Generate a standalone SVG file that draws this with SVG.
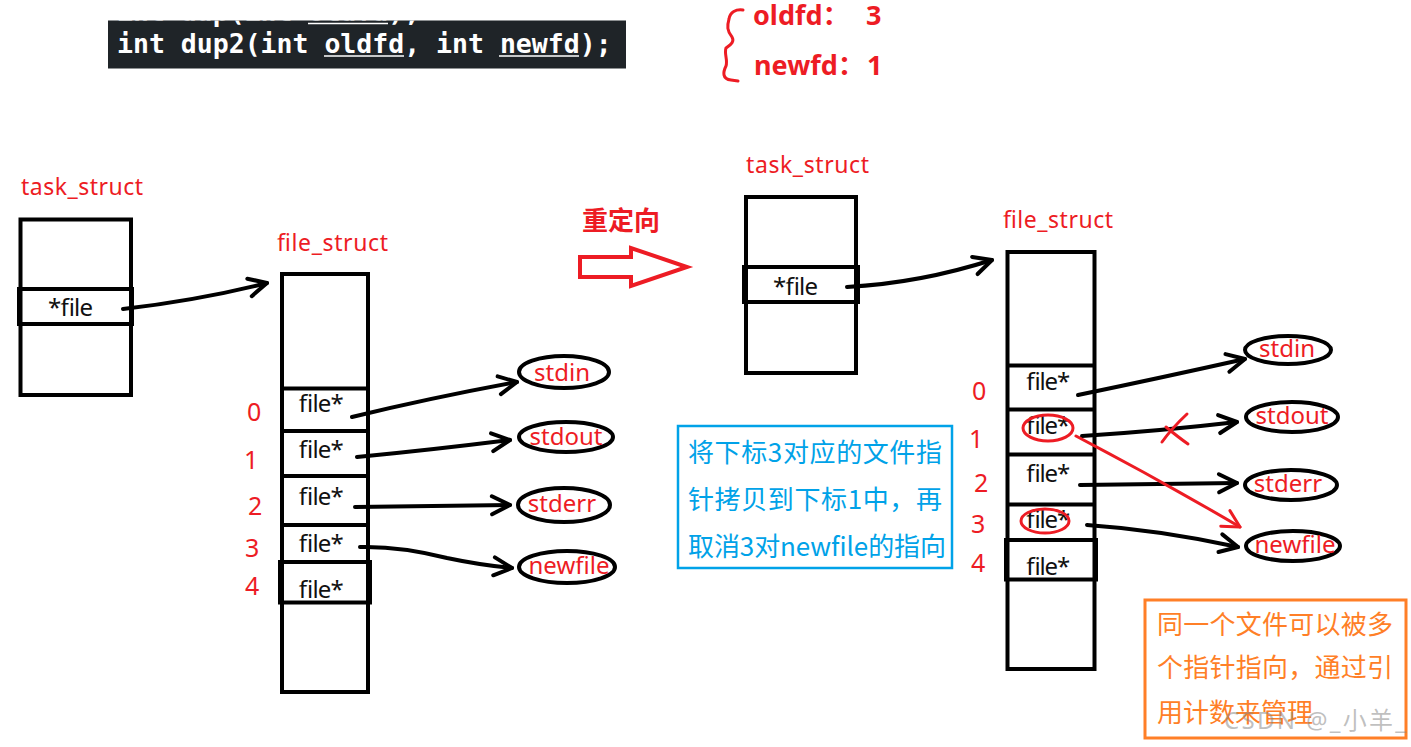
<svg xmlns="http://www.w3.org/2000/svg" width="1411" height="747" viewBox="0 0 1411 747">
<style>
.box{fill:#fff;stroke:#000;stroke-width:4}
.row{fill:none;stroke:#000;stroke-width:4}
.lbl{font-family:"Noto Sans","Noto Sans CJK SC",sans-serif;font-size:23px;fill:#ED1C24}
.cell{font-family:"Noto Sans","Noto Sans CJK SC",sans-serif;font-size:24px;fill:#111}
.idx{font-family:"Noto Sans","Noto Sans CJK SC",sans-serif;font-size:25px;fill:#ED1C24}
.ell{fill:none;stroke:#000;stroke-width:4}
.ellt{font-family:"Noto Sans","Noto Sans CJK SC",sans-serif;font-size:24px;fill:#ED1C24;text-anchor:middle}
.conn{fill:none;stroke:#000;stroke-width:4;stroke-linecap:round;stroke-linejoin:round;marker-end:url(#ah)}
.redc{fill:none;stroke:#ED1C24;stroke-width:3;stroke-linecap:round;stroke-linejoin:round}
.code{font-family:"DejaVu Sans Mono","Liberation Mono",monospace;font-weight:bold;font-size:26.5px;fill:#fff}
.ul{stroke:#fff;stroke-width:1.5}
.cjk{font-family:"Noto Sans CJK SC",sans-serif;font-size:26px}
.par{font-family:"Noto Sans","Noto Sans CJK SC",sans-serif;font-size:27px;font-weight:bold;fill:#ED1C24}
</style>
<defs>
<marker id="ah" markerUnits="userSpaceOnUse" markerWidth="26" markerHeight="26" viewBox="0 0 26 26" refX="22" refY="13" orient="auto">
<path d="M4,4 L22,13 L4,22" fill="none" stroke="#000" stroke-width="4" stroke-linecap="round" stroke-linejoin="round"/>
</marker>
<marker id="ahr" markerUnits="userSpaceOnUse" markerWidth="26" markerHeight="26" viewBox="0 0 26 26" refX="22" refY="13" orient="auto">
<path d="M5,4 L22,13 L5,22" fill="none" stroke="#ED1C24" stroke-width="3" stroke-linecap="round" stroke-linejoin="round"/>
</marker>
<clipPath id="codeclip"><rect x="108" y="20.5" width="518" height="48"/></clipPath>
</defs>
<rect width="1411" height="747" fill="#fff"/>

<g id="code">
<rect x="108" y="20.5" width="518" height="48" fill="#1f2428"/>
<g clip-path="url(#codeclip)">
<text class="code" x="117" y="21">int dup(int oldfd);</text>
<line class="ul" x1="308" y1="23.5" x2="388" y2="23.5"/>
</g>
<text class="code" x="117" y="53">int dup2(int oldfd, int newfd);</text>
<line class="ul" x1="324" y1="56" x2="404" y2="56"/>
<line class="ul" x1="499" y1="56" x2="579" y2="56"/>
</g>

<g id="params">
<path d="M743,10 C736,9 730,12 729,19 C727,26 727,31 732,37 C735,42 730,45 726,48 C724,54 728,60 726,66 C723,72 722,79 731,80 L738,81" fill="none" stroke="#ED1C24" stroke-width="3" stroke-linecap="round"/>
<text class="par" x="753" y="25">oldfd：<tspan x="866">3</tspan></text>
<text class="par" x="754" y="75">newfd：<tspan x="867">1</tspan></text>
</g>

<g id="task-left">
<text class="lbl" x="21" y="195" textLength="122">task_struct</text>
<rect class="box" x="20.5" y="219.5" width="110.5" height="175.5"/>
<rect class="row" x="19" y="289" width="113" height="35"/>
<text class="cell" x="48" y="316" textLength="45">*file</text>
</g>

<g id="file-left">
<text class="lbl" x="277" y="251" textLength="111">file_struct</text>
<rect class="box" x="282" y="274" width="86" height="418"/>
<line class="row" x1="282" y1="388.5" x2="368" y2="388.5"/>
<line class="row" x1="282" y1="431" x2="368" y2="431"/>
<line class="row" x1="282" y1="476" x2="368" y2="476"/>
<line class="row" x1="282" y1="525" x2="368" y2="525"/>
<rect class="row" x="280" y="562" width="90" height="40.5"/>
<text class="cell" x="298" y="412" textLength="45">file*</text>
<text class="cell" x="298" y="458" textLength="45">file*</text>
<text class="cell" x="298" y="505" textLength="45">file*</text>
<text class="cell" x="298" y="552" textLength="45">file*</text>
<text class="cell" x="298" y="598" textLength="45">file*</text>
<text class="idx" x="247" y="421">0</text>
<text class="idx" x="244" y="469">1</text>
<text class="idx" x="248" y="515">2</text>
<text class="idx" x="245" y="557">3</text>
<text class="idx" x="245" y="595">4</text>
</g>

<g id="files-left">
<ellipse class="ell" cx="564" cy="372" rx="45" ry="16"/>
<text class="ellt" x="562" y="381">stdin</text>
<ellipse class="ell" cx="566" cy="437" rx="47" ry="15"/>
<text class="ellt" x="566" y="445">stdout</text>
<ellipse class="ell" cx="564" cy="505" rx="46" ry="17"/>
<text class="ellt" x="562" y="512">stderr</text>
<ellipse class="ell" cx="567" cy="567" rx="48" ry="16"/>
<text class="ellt" x="569" y="574">newfile</text>
</g>

<g id="redirect">
<path d="M580,257 L631,257 L631,248 L687,267 L631,286 L631,277 L580,277 Z" fill="none" stroke="#ED1C24" stroke-width="4" stroke-linejoin="miter"/>
<text x="582" y="230" font-family="Noto Sans CJK SC,sans-serif" font-size="26" font-weight="bold" fill="#ED1C24">重定向</text>
</g>

<g id="task-right">
<text class="lbl" x="746" y="173" textLength="123">task_struct</text>
<rect class="box" x="746" y="197" width="110" height="176"/>
<rect class="row" x="744" y="267" width="114" height="35"/>
<text class="cell" x="773" y="295" textLength="45">*file</text>
</g>

<g id="file-right">
<text class="lbl" x="1003" y="228" textLength="110">file_struct</text>
<rect class="box" x="1007.5" y="252" width="87" height="417"/>
<line class="row" x1="1007.5" y1="365.5" x2="1094.5" y2="365.5"/>
<line class="row" x1="1007.5" y1="409.5" x2="1094.5" y2="409.5"/>
<line class="row" x1="1007.5" y1="454.5" x2="1094.5" y2="454.5"/>
<line class="row" x1="1007.5" y1="504.5" x2="1094.5" y2="504.5"/>
<rect class="row" x="1006" y="540" width="90" height="39.5"/>
<text class="cell" x="1025" y="390" textLength="44">file*</text>
<text class="cell" x="1025" y="434" textLength="44">file*</text>
<text class="cell" x="1025" y="482" textLength="44">file*</text>
<text class="cell" x="1025" y="528" textLength="44">file*</text>
<text class="cell" x="1025" y="575" textLength="44">file*</text>
<text class="idx" x="972" y="400">0</text>
<text class="idx" x="969" y="448">1</text>
<text class="idx" x="974" y="492">2</text>
<text class="idx" x="971" y="533">3</text>
<text class="idx" x="971" y="572">4</text>
<ellipse cx="1048" cy="428" rx="25" ry="13" class="redc"/>
<ellipse cx="1045" cy="521" rx="24" ry="12" class="redc"/>
</g>

<g id="files-right">
<ellipse class="ell" cx="1288" cy="350" rx="43" ry="14"/>
<text class="ellt" x="1287" y="357">stdin</text>
<ellipse class="ell" cx="1292" cy="417" rx="46" ry="15"/>
<text class="ellt" x="1292" y="424">stdout</text>
<ellipse class="ell" cx="1291" cy="485" rx="46" ry="15"/>
<text class="ellt" x="1288" y="492">stderr</text>
<ellipse class="ell" cx="1293" cy="546" rx="47" ry="15"/>
<text class="ellt" x="1295" y="553">newfile</text>
</g>

<g id="connectors">
<path class="conn" d="M123,309 Q200,300 267,283"/>
<path class="conn" d="M352,417 Q430,398 517,382"/>
<path class="conn" d="M357,457 Q430,450 510,440"/>
<path class="conn" d="M355,507 Q430,506 510,505"/>
<path class="conn" d="M360,547 Q400,546 447,558 Q480,565 512,568"/>
<path class="conn" d="M847,287 Q920,283 992,260"/>
<path class="conn" d="M1078,395 Q1160,378 1245,359"/>
<path class="conn" d="M1082,436 Q1160,431 1237,422"/>
<path class="conn" d="M1080,485 Q1160,484 1237,483"/>
<path class="conn" d="M1087,525 Q1160,530 1238,547"/>
<path class="redc" d="M1076,436 Q1160,480 1240,527" marker-end="url(#ahr)"/>
<path class="redc" d="M1187,414 Q1172,428 1162,442"/>
<path class="redc" d="M1166,427 Q1178,437 1188,444"/>
</g>

<g id="note-blue">
<rect x="678" y="426" width="274" height="142" fill="#fff" stroke="#00A2E8" stroke-width="2.5"/>
<g class="cjk" fill="#00A2E8">
<text x="688" y="462" textLength="254">将下标3对应的文件指</text>
<text x="688" y="509" textLength="254">针拷贝到下标1中，再</text>
<text x="688" y="556" textLength="258">取消3对newfile的指向</text>
</g>
</g>

<g id="note-orange">
<rect x="1145" y="600" width="261" height="138" fill="#fff" stroke="#FF7F27" stroke-width="3"/>
<g class="cjk" fill="#FF7F27">
<text x="1157" y="634" textLength="236">同一个文件可以被多</text>
<text x="1157" y="677" textLength="236">个指针指向，通过引</text>
<text x="1157" y="722">用计数来管理</text>
</g>
<text x="1224" y="729" font-family="Noto Sans,Noto Sans CJK SC,sans-serif" font-size="24" fill="#8a8a8a" fill-opacity="0.55" textLength="182">CSDN @_小羊_</text>
</g>
</svg>
